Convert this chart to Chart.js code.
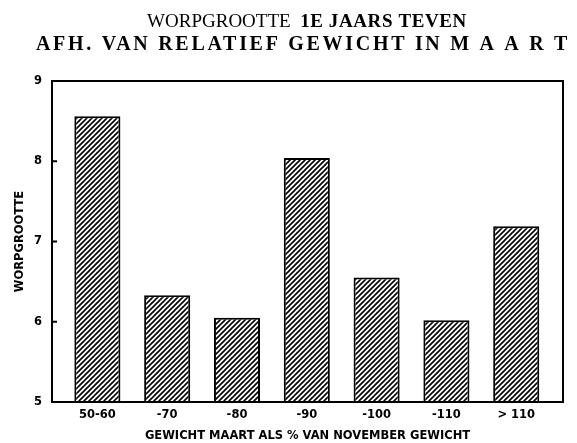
<!DOCTYPE html>
<html>
<head>
<meta charset="utf-8">
<script src="https://cdn.jsdelivr.net/npm/chart.js@4"></script>
<style>
  html, body { margin: 0; padding: 0; background: #fff; }
  #wrap { width: 577px; height: 443px; }
</style>
</head>
<body>
<div id="wrap"><canvas id="myChart_1"></canvas></div>
<script>
var klassen = ["50-60", "-70", "-80", "-90", "-100", "-110", "> 110"];
var worpgrootte = [8.56, 6.33, 6.05, 8.04, 6.55, 6.02, 7.19];
var yTicks = [5, 6, 7, 8, 9];

// diagonal hatch fill
function hatch() {
  var c = document.createElement("canvas");
  c.width = 5; c.height = 5;
  var g = c.getContext("2d");
  g.fillStyle = "#fff";
  g.fillRect(0, 0, 5, 5);
  g.strokeStyle = "#000";
  g.lineWidth = 1.6;
  g.beginPath();
  g.moveTo(-1, 6); g.lineTo(6, -1);
  g.moveTo(-1, 1); g.lineTo(1, -1);
  g.moveTo(4, 6); g.lineTo(6, 4);
  g.stroke();
  return g.createPattern(c, "repeat");
}

var titel = {
  id: "titel",
  afterDraw: function (chart) {
    var g = chart.ctx;
    var regels = [
      [{ t: "WORPGROOTTE  ", f: "19px 'Liberation Serif'", ls: 0 }, { t: "1E JAARS TEVEN", f: "bold 19px 'Liberation Serif'", ls: 0.6 }],
      [{ t: "AFH. VAN RELATIEF GEWICHT IN M A A R T", f: "bold 20px 'Liberation Serif'", ls: 2.7 }]
    ];
    var ys = [22, 45], cx = [307, 303];
    g.save();
    g.fillStyle = "#000";
    g.textBaseline = "middle";
    regels.forEach(function (r, i) {
      var w = 0;
      r.forEach(function (s) {
        g.font = s.f; g.letterSpacing = s.ls + "px";
        w += g.measureText(s.t).width;
      });
      var x = cx[i] - w / 2;
      r.forEach(function (s) {
        g.font = s.f; g.letterSpacing = s.ls + "px";
        g.fillText(s.t, x, ys[i]);
        x += g.measureText(s.t).width;
      });
    });
    g.letterSpacing = "0px";
    // box + inner y ticks
    var a = chart.chartArea;
    g.strokeStyle = "#000";
    g.lineWidth = 2;
    g.strokeRect(a.left, a.top, a.right - a.left, a.bottom - a.top);
    var ys2 = chart.scales.y;
    g.beginPath();
    yTicks.forEach(function (v) {
      var p = ys2.getPixelForValue(v);
      g.moveTo(a.left, p); g.lineTo(a.left + 5, p);
    });
    g.stroke();
    g.restore();
  }
};

var asFont = { family: "'DejaVu Sans'", size: 11.5, weight: "bold" };

var ctx = document.getElementById("myChart_1");
var myChart = new Chart(ctx, {
  type: "bar",
  data: {
    datasets: [
      {
        label: "Worpgrootte",
        data: worpgrootte.map(function (v, i) { return { x: i, y: v }; }),
        backgroundColor: hatch(),
        borderColor: "#000",
        borderWidth: 2,
        borderSkipped: false,
        categoryPercentage: 1,
        barPercentage: 0.66
      }
    ]
  },
  options: {
    responsive: true,
    maintainAspectRatio: false,
    animation: false,
    layout: { padding: { top: 81, right: 14, left: 0, bottom: 0 } },
    plugins: { legend: { display: false }, tooltip: { enabled: false } },
    scales: {
      x: {
        type: "linear",
        offset: false,
        min: -0.65,
        max: 6.67,
        afterBuildTicks: function (s) {
          s.ticks = klassen.map(function (k, i) { return { value: i }; });
        },
        afterFit: function (s) { s.height = 41; },
        grid: { display: false, drawTicks: false },
        border: { display: false },
        ticks: {
          color: "#000",
          padding: 6,
          maxRotation: 0,
          autoSkip: false,
          font: asFont,
          callback: function (v) { return klassen[v]; }
        },
        title: {
          display: true,
          text: "GEWICHT MAART ALS % VAN NOVEMBER GEWICHT",
          color: "#000",
          padding: { top: 6, bottom: 0 },
          font: asFont
        }
      },
      y: {
        min: 5,
        max: 9,
        afterBuildTicks: function (s) {
          s.ticks = yTicks.map(function (v) { return { value: v }; });
        },
        afterFit: function (s) { s.width = 52; },
        grid: { display: false, drawTicks: false },
        border: { display: false },
        ticks: {
          color: "#000",
          padding: 10,
          font: asFont
        },
        title: {
          display: true,
          text: "WORPGROOTTE",
          color: "#000",
          padding: { top: 13, bottom: 0 },
          font: asFont
        }
      }
    }
  },
  plugins: [titel]
});
</script>
</body>
</html>
